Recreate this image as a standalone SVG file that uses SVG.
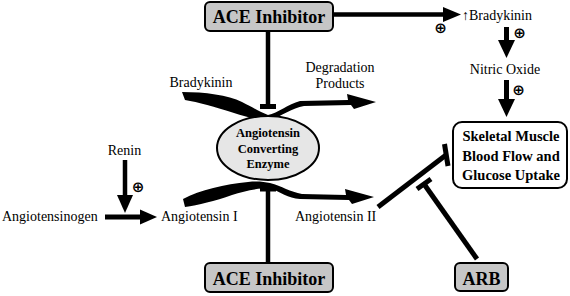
<svg xmlns="http://www.w3.org/2000/svg" width="570" height="296" viewBox="0 0 570 296">
<defs>
<style>
.lbl{font-family:"Liberation Serif","DejaVu Serif",serif;font-size:14px;fill:#000}
.box{fill:#c6c6c6;stroke:#000;stroke-width:2}
.boxt{font-family:"Liberation Serif","DejaVu Serif",serif;font-size:18px;font-weight:bold;fill:#000;text-anchor:middle}
.bt{font-family:"Liberation Serif","DejaVu Serif",serif;font-size:12.5px;font-weight:bold;fill:#000;text-anchor:middle}
.st{font-family:"Liberation Serif","DejaVu Serif",serif;font-size:14.5px;font-weight:bold;fill:#000;text-anchor:middle}
.plus{font-family:"DejaVu Sans",sans-serif;font-size:15px;font-weight:bold;fill:#000;text-anchor:middle;dominant-baseline:central}
.ln{stroke:#000;stroke-width:4.5;fill:none}
.tb{stroke:#000;stroke-width:5;fill:none}
.sw{fill:#000}
</style>
</defs>
<g id="connectors">
  <line class="ln" x1="334" y1="14.5" x2="446" y2="14.5"/>
  <polygon points="443,7 461,14.5 443,22" fill="#000"/>
  <line class="ln" x1="268" y1="31" x2="268" y2="107"/>
  <line class="tb" x1="260" y1="106.5" x2="276" y2="106.5"/>
  <line class="ln" x1="268" y1="263" x2="268" y2="189"/>
  <line class="tb" x1="260" y1="189" x2="276" y2="189"/>
  <path class="sw" d="M182,92 C205,92 228,95 242,102 C252,107 260,112 268,115 C278,113 288,104 300,101 L348,100 L347,94 L376,102 L354,109 L351,105 L304,106 C292,108 282,116 270,120 C258,120 246,117 234,113 C215,107 198,102 185,100 Z"/>
  <path class="sw" d="M183,199 C200,190 225,184 248,182 C258,181 264,182 270,183 C282,186 290,192 302,194 L346,195 L345,189 L374,197 L352,204 L349,200 L300,199 C288,198 280,192 270,188 C258,188 244,191 232,195 C215,201 198,205 185,207 Z"/>
  <line class="ln" x1="125" y1="160" x2="125" y2="198"/>
  <polygon points="117,195 125,213 133,195" fill="#000"/>
  <line class="tb" x1="105" y1="217" x2="142" y2="217"/>
  <polygon points="140,209.5 157,217 140,224.5" fill="#000"/>
  <line class="tb" x1="506.5" y1="27" x2="506.5" y2="42"/>
  <polygon points="498,40 506.5,58 515,40" fill="#000"/>
  <line class="tb" x1="506.5" y1="80" x2="506.5" y2="102"/>
  <polygon points="498,99 506.5,117 515,99" fill="#000"/>
  <line class="tb" x1="378" y1="207" x2="446" y2="155"/>
  <line class="tb" x1="444.5" y1="144" x2="448" y2="166"/>
  <line class="tb" x1="477" y1="259" x2="424" y2="184"/>
  <line class="tb" x1="417" y1="189" x2="431" y2="179"/>
</g>
<g id="ace-top">
  <rect class="box" x="205" y="2" width="128" height="29" rx="5"/>
  <text class="boxt" x="269" y="23">ACE Inhibitor</text>
</g>
<g id="ace-bottom">
  <rect class="box" x="205" y="263" width="128" height="29" rx="5"/>
  <text class="boxt" x="269" y="285">ACE Inhibitor</text>
</g>
<g id="ace">
  <ellipse cx="268" cy="148" rx="51" ry="32" fill="#e6e6e6" stroke="#000" stroke-width="2"/>
  <text class="bt" x="268" y="137">Angiotensin</text>
  <text class="bt" x="268" y="152.5">Converting</text>
  <text class="bt" x="268" y="168">Enzyme</text>
</g>
<g id="skeletal">
  <rect x="453" y="122" width="114" height="66" rx="9" fill="#fff" stroke="#000" stroke-width="2"/>
  <text class="st" x="511" y="140.5">Skeletal Muscle</text>
  <text class="st" x="511" y="160.5">Blood Flow and</text>
  <text class="st" x="511" y="180">Glucose Uptake</text>
</g>
<g id="arb">
  <rect class="box" x="455" y="263" width="53" height="28" rx="5"/>
  <text class="boxt" x="481.5" y="285">ARB</text>
</g>
<g id="bradykinin-up"><text class="lbl" x="462" y="20">↑Bradykinin</text></g>
<g id="nitric-oxide"><text class="lbl" x="505" y="74" text-anchor="middle">Nitric Oxide</text></g>
<g id="bradykinin"><text class="lbl" x="201" y="87" text-anchor="middle">Bradykinin</text></g>
<g id="degradation"><text class="lbl" x="340" y="72" text-anchor="middle">Degradation</text><text class="lbl" x="340" y="88" text-anchor="middle">Products</text></g>
<g id="renin"><text class="lbl" x="124.5" y="155" text-anchor="middle">Renin</text></g>
<g id="angiotensinogen"><text class="lbl" x="2" y="221">Angiotensinogen</text></g>
<g id="angiotensin1"><text class="lbl" x="161" y="221">Angiotensin I</text></g>
<g id="angiotensin2"><text class="lbl" x="295" y="221">Angiotensin II</text></g>
<g id="plus-signs">
  <text class="plus" x="440.5" y="28">⊕</text>
  <text class="plus" x="519.5" y="33">⊕</text>
  <text class="plus" x="518.5" y="90">⊕</text>
  <text class="plus" x="138" y="187">⊕</text>
</g>
</svg>
